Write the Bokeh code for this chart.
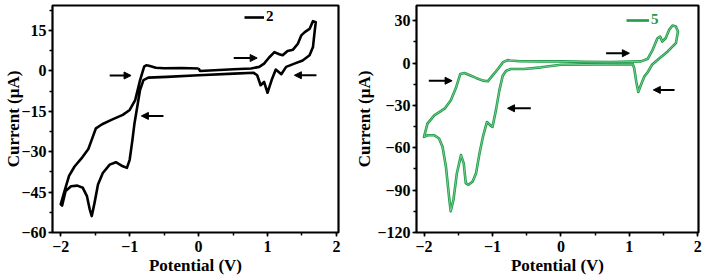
from bokeh.plotting import figure
from bokeh.layouts import row
from bokeh.models import (FixedTicker, Arrow, NormalHead, Legend, LegendItem, Range1d)
from bokeh.embed import file_html
from bokeh.resources import INLINE

# ---------------- data: panel "2" (black) ----------------
pot2 = [0.0, -0.25, -0.5, -0.62, -0.72, -0.76, -0.79, -0.85, -0.92, -1.0, -1.1, -1.25, -1.4, -1.49,
        -1.55, -1.6, -1.7, -1.8, -1.88, -1.95, -2.0,
        -1.98, -1.93, -1.85, -1.76, -1.68, -1.62, -1.58, -1.55, -1.51, -1.46, -1.39, -1.29, -1.2,
        -1.1, -1.04, -1.0, -0.96, -0.93, -0.89, -0.85, -0.8, -0.73, -0.46, 0.0, 0.51, 0.8,
        0.85, 0.9, 0.95, 1.0, 1.06, 1.12, 1.2, 1.27, 1.39, 1.51, 1.61, 1.66, 1.68, 1.7,
        1.66, 1.61, 1.54, 1.49, 1.44, 1.37, 1.29, 1.22, 1.17, 1.1, 1.02, 0.95, 0.88, 0.76, 0.51,
        0.02, 0.0]
cur2 = [0.9, 1.1, 1.0, 1.2, 1.9, 2.1, 1.6, -3.5, -10.8, -14.5, -16.3, -18.0, -19.8, -21.3,
        -25.5, -29.0, -32.5, -35.5, -39.0, -45.0, -49.5,
        -50.0, -44.6, -42.8, -42.6, -43.4, -46.5, -51.4, -53.9, -49.0, -42.2, -37.9, -34.8, -33.9,
        -35.4, -36.0, -33.0, -25.6, -19.4, -13.3, -7.1, -3.4, -2.5, -2.2, -1.6, -1.0, -0.7,
        -1.6, -5.3, -4.1, -8.1, -3.4, 0.5, -1.2, 1.5, 2.7, 3.9, 5.8, 8.9, 13.8, 18.1,
        18.5, 15.6, 14.4, 13.2, 10.1, 7.9, 7.4, 5.8, 6.2, 7.0, 4.9, 2.7, 1.5, 0.9, 0.6,
        0.0, 0.9]

# ---------------- data: panel "5" (green) ----------------
pot5 = [0.0, -0.3, -0.6, -0.74, -0.78, -0.85, -0.92, -1.0, -1.07, -1.14, -1.24, -1.34, -1.41,
        -1.47, -1.53, -1.61, -1.7, -1.85, -1.95, -2.0,
        -1.95, -1.85, -1.78, -1.73, -1.68, -1.63, -1.61, -1.57, -1.52, -1.46, -1.42, -1.39,
        -1.35, -1.29, -1.24, -1.19, -1.14, -1.08, -1.03, -1.0, -0.95, -0.9, -0.85, -0.8, -0.73,
        -0.54, -0.29, 0.0, 0.5, 1.05, 1.07, 1.1, 1.13, 1.17, 1.22, 1.27, 1.33, 1.44, 1.56, 1.68,
        1.71, 1.68, 1.63, 1.58, 1.53, 1.48, 1.45, 1.41, 1.34, 1.27, 1.17, 0.73, 0.35, 0.0]
cur5 = [1.2, 1.2, 1.3, 1.8, 2.1, 0.5, -4.2, -8.9, -12.9, -12.4, -10.5, -8.4, -7.0,
        -7.7, -17.1, -26.5, -32.3, -37.0, -42.9, -52.3,
        -51.1, -51.1, -53.4, -59.3, -73.4, -96.8, -105.0, -96.8, -78.0, -65.2, -71.0, -85.0,
        -86.2, -83.8, -78.0, -64.0, -52.3, -41.7, -44.1, -45.2, -33.5, -19.5, -8.9, -5.4, -4.2,
        -4.2, -3.0, -1.2, -0.9, -0.7, -3.5, -12.9, -20.5, -15.3, -9.4, -6.3, -1.2, 3.5, 8.3, 14.1,
        22.4, 25.9, 26.6, 23.5, 17.6, 15.3, 18.8, 17.6, 9.4, 3.1, 1.2, 0.8, 0.9, 1.2]

# arrows: (x_tail, x_head, y)
arrows2 = [(-1.29, -0.98, -1.7), (-0.51, -0.83, -16.7), (0.51, 0.85, 4.8), (1.71, 1.39, -1.6)]
arrows5 = [(-1.93, -1.59, -12.5), (-0.44, -0.78, -32.0), (0.66, 1.0, 7.0), (1.66, 1.35, -19.0)]

x_ticks = [-2, -1, 0, 1, 2]
x_minor = [-2, -1.5, -1, -0.5, 0, 0.5, 1, 1.5, 2]
y_ticks2 = [-60, -45, -30, -15, 0, 15]
y_minor2 = [-60, -52.5, -45, -37.5, -30, -22.5, -15, -7.5, 0, 7.5, 15, 22.5]
y_ticks5 = [-120, -90, -60, -30, 0, 30]
y_minor5 = [-120, -105, -90, -75, -60, -45, -30, -15, 0, 15, 30]

FONT = "Liberation Serif"


def make_panel(pot, cur, color, inner, label, arrows, yt, ym, yr, xr, borders, legend_loc, gw,
               label_standoff_y):
    p = figure(width=352, height=280, output_backend="svg", toolbar_location=None,
               x_range=Range1d(*xr), y_range=Range1d(*yr),
               min_border_left=borders[0], min_border_right=borders[1],
               min_border_top=borders[2], min_border_bottom=borders[3])
    p.grid.visible = False
    p.outline_line_color = "black"
    p.outline_line_width = 2.2
    p.background_fill_color = "white"
    p.border_fill_color = "white"
    r = p.line(pot, cur, line_color=color, line_width=2.6, line_join="round")
    if inner:
        p.line(pot, cur, line_color=inner, line_width=0.8, line_join="round")
    for xt, xh, y in arrows:
        p.add_layout(Arrow(end=NormalHead(size=7, fill_color="black", line_color="black"),
                           x_start=xt, y_start=y, x_end=xh, y_end=y,
                           line_color="black", line_width=2))
    for ax in (p.xaxis[0], p.yaxis[0]):
        ax.axis_line_color = None
        ax.major_tick_in = 0
        ax.major_tick_out = 4
        ax.minor_tick_in = 0
        ax.minor_tick_out = 3
        ax.major_tick_line_width = 1.5
        ax.minor_tick_line_width = 1.5
        ax.major_label_text_font = FONT
        ax.major_label_text_font_style = "bold"
        ax.major_label_text_font_size = "16px"
        ax.major_label_text_color = "black"
        ax.axis_label_text_font = FONT
        ax.axis_label_text_font_style = "bold"
        ax.axis_label_text_font_size = "17px"
        ax.axis_label_text_color = "black"
    p.xaxis.ticker = FixedTicker(ticks=x_ticks, minor_ticks=x_minor)
    p.yaxis.ticker = FixedTicker(ticks=yt, minor_ticks=ym)
    p.xaxis.axis_label = "Potential (V)"
    p.yaxis.axis_label = "Current (μA)"
    p.xaxis.major_label_standoff = 4
    p.yaxis.major_label_standoff = 2
    p.xaxis.axis_label_standoff = 1
    p.yaxis.axis_label_standoff = label_standoff_y
    leg = Legend(items=[LegendItem(label=label, renderers=[r])], location=legend_loc,
                 padding=0, margin=0, spacing=0, glyph_width=gw, glyph_height=14,
                 label_height=14, label_standoff=2, border_line_alpha=0,
                 background_fill_alpha=0, label_text_font=FONT,
                 label_text_font_style="bold", label_text_font_size="15px",
                 label_text_color=color)
    p.add_layout(leg)
    return p


p1 = make_panel(pot2, cur2, "black", None, "2", arrows2, y_ticks2, y_minor2,
                (-60, 24.3), (-2.12, 2.03), (52, 14, 5, 47), (192, 207), 20, -5)
p2 = make_panel(pot5, cur5, "#1e9a48", "#8fd8a0", "5", arrows5, y_ticks5, y_minor5,
                (-120, 40.8), (-2.11, 2.01), (63, 6, 4, 48), (210, 204), 23, 0)

layout = row(p1, p2)
open("out.html", "w").write(file_html(layout, INLINE))
